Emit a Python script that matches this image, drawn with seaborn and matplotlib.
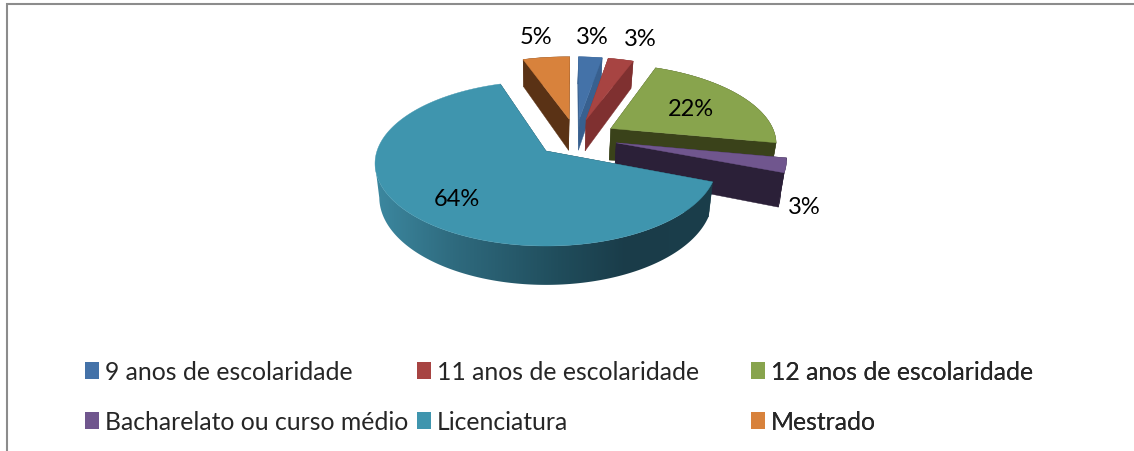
import numpy as np
import matplotlib
matplotlib.use('Agg')
import matplotlib.pyplot as plt
import seaborn as sns
from matplotlib.patches import Polygon, Patch
from matplotlib.colors import LinearSegmentedColormap

categories = ['9 anos de escolaridade', '11 anos de escolaridade', '12 anos de escolaridade',
              'Bacharelato ou curso médio', 'Licenciatura', 'Mestrado']
values = [2.7, 2.9, 22, 2.9, 64.1, 5.4]
value_labels = ['3%', '3%', '22%', '3%', '64%', '5%']

top_colors = ['#4472a8', '#a74442', '#88a44d', '#70568e', '#3f95ae', '#d8823c']
wall_colors = ['#38608f', '#7f3030', '#3a421a', '#2b2038', '#1a3c49', '#5a3215']
label_xy = [(592, 38), (640, 40), (691, 109), (804, 208), (457, 200), (536, 38)]

# perspective of the pie, in pixels of the figure
CX, CY = 546, 152
A, B, K = 169, 80.6, 0.1515
DEPTH = 33
BOTTOM_SHRINK = 0.975
EXPLODE = 0.25
START = np.deg2rad(1.44)
MAIN = 4  # the big slice sits at CX, CY


def project(u, v, bottom=False):
    d = 1 + K * v
    sx = A * u / d
    sy = CY - B * v / d
    if bottom:
        return np.column_stack([CX + BOTTOM_SHRINK * sx, sy + DEPTH / d])
    return np.column_stack([CX + sx, sy])


sns.set_theme(style='white')
plt.rcParams['font.family'] = ['Lato', 'DejaVu Sans']

fig = plt.figure(figsize=(11.34, 4.52), dpi=100)
ax = fig.add_axes([0, 0, 1, 1])
ax.axis('off')

# frame, only left and top
ax.plot([7, 7, 1134], [452, 4.5, 4.5], color='#8c8c8c', lw=1.5, solid_joinstyle='miter')

angles = START + np.cumsum([0] + values) / sum(values) * 2 * np.pi
mids = (angles[:-1] + angles[1:]) / 2
main_dir = np.array([np.sin(mids[MAIN]), np.cos(mids[MAIN])])

teal_wall = LinearSegmentedColormap.from_list(
    'teal_wall', [(0, '#3d8aa2'), (0.24, '#2f6b7f'), (0.55, '#204d5c'), (0.75, '#1a3c49'), (1, '#1b3e4b')])

# back slices first, the big one goes last
z = 2
for i in [5, 0, 1, 2, 3, 4]:
    t0, t1 = angles[i], angles[i + 1]
    off = EXPLODE * (np.array([np.sin(mids[i]), np.cos(mids[i])]) - main_dir)
    t = np.linspace(t0, t1, 240)
    u = off[0] + np.sin(t)
    v = off[1] + np.cos(t)

    # flat sides of the cut
    for end in [0, -1]:
        side = np.vstack([project(off[0], off[1]), project(u[end], v[end]),
                          project(u[end], v[end], True), project(off[0], off[1], True)])
        ax.add_patch(Polygon(side, closed=True, fc=wall_colors[i], ec=wall_colors[i], lw=0.3, zorder=z))
    z += 1

    # outer wall
    top_arc = project(u, v)
    bottom_arc = project(u, v, True)
    if i == MAIN:
        # gradient only up to the left edge, the rest is hidden behind the top
        stop = np.argmin(top_arc[:, 0]) + 1
        wall = Polygon(np.vstack([top_arc[:stop], bottom_arc[:stop][::-1]]), closed=True,
                       fc='none', ec='none', transform=ax.transData)
        ax.add_patch(wall)
        grad = np.linspace(0, 1, 512).reshape(1, -1)
        img = ax.imshow(grad, extent=(370, 712, 300, 150), cmap=teal_wall, aspect='auto', zorder=z)
        img.set_clip_path(wall)
    else:
        wall = np.vstack([top_arc, bottom_arc[::-1]])
        ax.add_patch(Polygon(wall, closed=True, fc=wall_colors[i], ec=wall_colors[i], lw=0.3, zorder=z))
    z += 1

    # top face
    face = np.vstack([project(off[0], off[1]), top_arc])
    ax.add_patch(Polygon(face, closed=True, fc=top_colors[i], ec=top_colors[i], lw=0.3, zorder=z))
    z += 1

ax.set_xlim(0, 1134)
ax.set_ylim(452, 0)

for txt, (x, y) in zip(value_labels, label_xy):
    ax.text(x, y, txt, ha='center', va='center', fontsize=17, color='black', zorder=z)

# three legend columns, they are not evenly spaced
handles = [Patch(fc=c, ec='none') for c in top_colors]
column_x = [85, 417, 751]
for col, x in enumerate(column_x):
    idx = [col, col + 3]
    leg = ax.legend([handles[j] for j in idx], [categories[j] for j in idx],
                    loc='upper left', bbox_to_anchor=(x, 361), bbox_transform=ax.transData,
                    frameon=False, fontsize=17.8, borderpad=0, borderaxespad=0,
                    handlelength=0.55, handleheight=0.68, handletextpad=0.26, labelspacing=1.08)
    ax.add_artist(leg)

fig.savefig('out.png', dpi=100)
